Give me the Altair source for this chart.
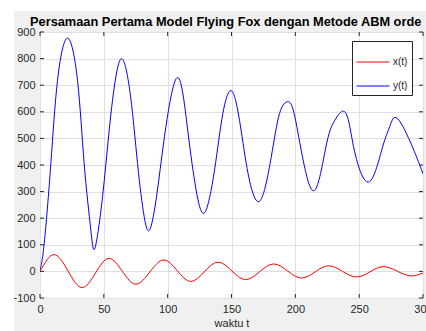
import altair as alt
import pandas as pd

# ---- data ----
series_names = ["x(t)", "y(t)"]
series_colors = ["#ff0000", "#0000ff"]

t_x = [0, 11, 33, 54, 75, 97, 118, 139.5, 161, 183, 205, 226, 248, 269, 291, 300]
x_vals = [0, 63, -61, 49, -48, 43, -38, 35, -31, 28, -25, 21, -21, 18, -17, -6]

t_y = [0, 3.3, 8.5, 13.7, 21.5, 29.4, 34.6, 39.8, 43.2, 49, 54.2, 59.4, 64.8,
       71, 76.4, 81.6, 86.3, 92, 98.5, 107.9, 115.7, 122.3, 129, 136.7, 143.2,
       150.5, 157.5, 164, 172.5, 181.1, 187.6, 194, 199, 205.6, 215, 223.9,
       230, 236.9, 242, 247.4, 258, 268.3, 274, 280, 291.8, 300]
y_vals = [5, 106, 405, 717, 877, 717, 405, 156, 90, 281, 531, 731, 797,
          656, 406, 206, 160, 306, 540, 729, 531, 306, 221, 381, 593,
          677, 531, 344, 266, 429, 593, 638, 595, 431, 304, 467,
          560, 602, 560, 431, 337, 467, 545, 575, 467, 367]

x_ticks = [0, 50, 100, 150, 200, 250, 300]
y_ticks = [-100, 0, 100, 200, 300, 400, 500, 600, 700, 800, 900]

title_text = "Persamaan Pertama Model Flying Fox dengan Metode ABM orde"
x_title = "waktu t"

df_x = pd.DataFrame({"t": t_x, "v": x_vals, "s": series_names[0]})
df_y = pd.DataFrame({"t": t_y, "v": y_vals, "s": series_names[1]})

W, H = 383, 266
FONT = "Liberation Sans"
AX = "#262626"

x_scale = alt.Scale(domain=[0, 300], nice=False, zero=False)
y_scale = alt.Scale(domain=[-100, 900], nice=False, zero=False)
c_scale = alt.Scale(domain=series_names, range=series_colors)

x_axis = alt.Axis(values=x_ticks, title=x_title, grid=True, gridColor="#dfdfdf",
                  ticks=False, domain=False, labelFont=FONT, labelFontSize=11,
                  labelColor=AX, labelPadding=5, titleFont=FONT, titleFontSize=11,
                  titleFontWeight="normal", titleColor=AX, titlePadding=3,
                  labelFlush=False, labelOverlap=False)
y_axis = alt.Axis(values=y_ticks, title=None, grid=True, gridColor="#dfdfdf",
                  ticks=False, domain=False, labelFont=FONT, labelFontSize=11,
                  labelColor=AX, labelPadding=5, labelFlush=False, labelOverlap=False)

legend = alt.Legend(title=None, orient="none", legendX=312, legendY=9,
                    symbolType="stroke", symbolSize=1089, symbolStrokeWidth=1,
                    labelFont=FONT, labelFontSize=10, labelColor=AX,
                    strokeColor=AX, fillColor="white", padding=4, rowPadding=2,
                    labelOffset=3, cornerRadius=0)

one = pd.DataFrame({"k": [0]})

# white margin strips of the original screenshot
left_strip = alt.Chart(one).mark_rect(color="white").encode(
    x=alt.value(-40), x2=alt.value(-26), y=alt.value(-32), y2=alt.value(H + 33))
top_strip = alt.Chart(one).mark_rect(color="white").encode(
    x=alt.value(-40), x2=alt.value(W + 3), y=alt.value(-32), y2=alt.value(-21))

# chart title (cut off at the right edge, as in the reference)
title_mark = alt.Chart(one).mark_text(
    align="left", baseline="alphabetic", font=FONT, fontSize=12.8,
    fontWeight="bold", color="black").encode(
    x=alt.value(-10), y=alt.value(-6), text=alt.value(title_text))

# inward ticks (MATLAB style)
xt = pd.DataFrame({"t": x_ticks})
yt = pd.DataFrame({"v": y_ticks})
xtick_b = alt.Chart(xt).mark_rule(color=AX, strokeWidth=1).encode(
    x=alt.X("t:Q", scale=x_scale, axis=x_axis), y=alt.value(H), y2=alt.value(H - 4))
xtick_t = alt.Chart(xt).mark_rule(color=AX, strokeWidth=1).encode(
    x=alt.X("t:Q", scale=x_scale, axis=x_axis), y=alt.value(0), y2=alt.value(4))
ytick_l = alt.Chart(yt).mark_rule(color=AX, strokeWidth=1).encode(
    y=alt.Y("v:Q", scale=y_scale, axis=y_axis), x=alt.value(0), x2=alt.value(4))
ytick_r = alt.Chart(yt).mark_rule(color=AX, strokeWidth=1).encode(
    y=alt.Y("v:Q", scale=y_scale, axis=y_axis), x=alt.value(W - 4), x2=alt.value(W))

line_x = alt.Chart(df_x).mark_line(interpolate="monotone", strokeWidth=1, clip=True).encode(
    x=alt.X("t:Q", scale=x_scale, axis=x_axis),
    y=alt.Y("v:Q", scale=y_scale, axis=y_axis),
    color=alt.Color("s:N", scale=c_scale, legend=legend),
)
line_y = alt.Chart(df_y).mark_line(interpolate="natural", strokeWidth=1, clip=True).encode(
    x=alt.X("t:Q", scale=x_scale, axis=x_axis),
    y=alt.Y("v:Q", scale=y_scale, axis=y_axis),
    color=alt.Color("s:N", scale=c_scale, legend=legend),
)

chart = alt.layer(left_strip, top_strip, title_mark, xtick_b, xtick_t, ytick_l, ytick_r,
                  line_x, line_y).properties(
    width=W, height=H,
    padding={"left": 40, "top": 32, "right": 3, "bottom": 33},
    autosize=alt.AutoSizeParams(type="none"),
    background="#f0f0f0",
).configure_view(fill="white", stroke=AX, strokeWidth=1)

chart.save("out.html", embed_options={"renderer": "svg", "actions": False})
